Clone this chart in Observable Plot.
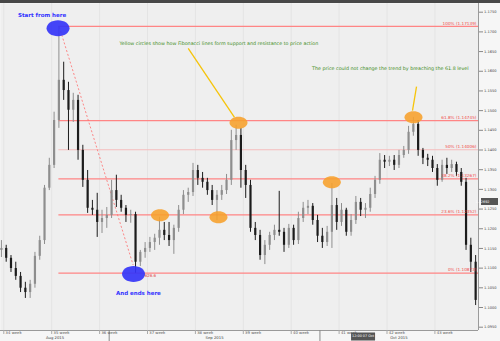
<!DOCTYPE html>
<html><head><meta charset="utf-8">
<script src="https://cdn.jsdelivr.net/npm/d3@7"></script>
<script src="https://cdn.jsdelivr.net/npm/@observablehq/plot@0.6"></script>
<style>
html,body{margin:0;padding:0;background:#f6f6f6;}
#chart svg{display:block;}
</style></head><body><div id="chart"></div>
<script>
// ---- candle data (EUR/USD, two bars per trading day), index -1 .. 98 ----
const candleIndex = d3.range(-1, 99);
const open = [1.1145,1.1150,1.1125,1.1099,1.1079,1.1049,1.1038,1.1059,1.1130,1.1170,
 1.1303,1.1361,1.1475,1.1577,1.1551,1.1501,1.1526,1.1399,1.1323,1.1252,
 1.1247,1.1216,1.1226,1.1234,1.1297,1.1272,1.1252,1.1234,1.1236,1.1115,
 1.1140,1.1150,1.1165,1.1176,1.1196,1.1183,1.1170,1.1201,1.1247,1.1285,
 1.1292,1.1348,1.1328,1.1318,1.1297,1.1272,1.1285,1.1297,1.1323,1.1424,
 1.1437,1.1348,1.1310,1.1201,1.1183,1.1132,1.1158,1.1183,1.1196,1.1191,
 1.1158,1.1201,1.1170,1.1226,1.1252,1.1257,1.1221,1.1181,1.1165,1.1191,
 1.1259,1.1216,1.1247,1.1191,1.1221,1.1267,1.1247,1.1252,1.1287,1.1323,
 1.1374,1.1369,1.1374,1.1361,1.1386,1.1399,1.1445,1.1465,1.1399,1.1379,
 1.1374,1.1353,1.1323,1.1361,1.1353,1.1363,1.1343,1.1318,1.1158,1.1115];
const high = [1.1170,1.1158,1.1132,1.1115,1.1089,1.1064,1.1069,1.1140,1.1181,1.1310,
 1.1379,1.1496,1.1714,1.1623,1.1572,1.1544,1.1539,1.1412,1.1348,1.1272,
 1.1290,1.1247,1.1254,1.1323,1.1336,1.1285,1.1259,1.1247,1.1242,1.1145,
 1.1165,1.1178,1.1186,1.1229,1.1216,1.1216,1.1209,1.1259,1.1297,1.1303,
 1.1366,1.1361,1.1343,1.1328,1.1310,1.1297,1.1310,1.1338,1.1450,1.1463,
 1.1455,1.1361,1.1323,1.1216,1.1196,1.1170,1.1191,1.1209,1.1295,1.1201,
 1.1211,1.1209,1.1242,1.1267,1.1272,1.1264,1.1234,1.1201,1.1206,1.1315,
 1.1277,1.1264,1.1252,1.1236,1.1282,1.1277,1.1264,1.1303,1.1333,1.1391,
 1.1386,1.1384,1.1386,1.1399,1.1409,1.1460,1.1483,1.1475,1.1404,1.1389,
 1.1384,1.1363,1.1374,1.1379,1.1374,1.1369,1.1353,1.1328,1.1176,1.1132];
const low = [1.1127,1.1115,1.1089,1.1069,1.1038,1.1023,1.1023,1.1049,1.1120,1.1160,
 1.1297,1.1353,1.1455,1.1526,1.1399,1.1470,1.1374,1.1305,1.1239,1.1234,
 1.1178,1.1188,1.1201,1.1226,1.1254,1.1242,1.1216,1.1214,1.1087,1.1104,
 1.1125,1.1140,1.1145,1.1158,1.1170,1.1155,1.1135,1.1191,1.1236,1.1267,
 1.1282,1.1310,1.1303,1.1285,1.1259,1.1221,1.1272,1.1287,1.1310,1.1399,
 1.1303,1.1277,1.1191,1.1170,1.1120,1.1109,1.1145,1.1170,1.1181,1.1140,
 1.1150,1.1158,1.1160,1.1216,1.1236,1.1209,1.1165,1.1150,1.1155,1.1150,
 1.1196,1.1206,1.1181,1.1181,1.1211,1.1231,1.1226,1.1242,1.1277,1.1313,
 1.1353,1.1358,1.1348,1.1353,1.1379,1.1389,1.1435,1.1384,1.1363,1.1358,
 1.1343,1.1308,1.1318,1.1338,1.1343,1.1333,1.1308,1.1145,1.1089,1.1005];
const close = [1.1150,1.1125,1.1099,1.1079,1.1049,1.1038,1.1059,1.1130,1.1170,1.1303,
 1.1361,1.1475,1.1577,1.1551,1.1501,1.1526,1.1399,1.1323,1.1252,1.1247,
 1.1216,1.1226,1.1234,1.1297,1.1272,1.1252,1.1234,1.1236,1.1115,1.1140,
 1.1150,1.1165,1.1176,1.1196,1.1183,1.1170,1.1201,1.1247,1.1285,1.1292,
 1.1348,1.1328,1.1318,1.1297,1.1272,1.1285,1.1297,1.1323,1.1424,1.1437,
 1.1348,1.1310,1.1201,1.1183,1.1132,1.1158,1.1183,1.1196,1.1191,1.1158,
 1.1201,1.1170,1.1226,1.1252,1.1257,1.1221,1.1181,1.1165,1.1191,1.1259,
 1.1216,1.1247,1.1191,1.1221,1.1267,1.1247,1.1252,1.1287,1.1323,1.1374,
 1.1369,1.1374,1.1361,1.1386,1.1399,1.1445,1.1465,1.1399,1.1379,1.1374,
 1.1353,1.1323,1.1361,1.1353,1.1363,1.1343,1.1318,1.1158,1.1115,1.1018];

// ---- axes ----
const yTicks = [1.095,1.100,1.105,1.110,1.115,1.120,1.125,1.130,1.135,1.140,1.145,1.150,1.155,1.160,1.165,1.170,1.175];
const weekLabels = ["34 week","35 week","36 week","37 week","38 week","39 week","40 week","41 week","42 week","43 week"];
const weekStarts = [-0.5,9.5,19.5,29.5,39.5,49.5,59.5,69.5,79.5,89.5];
const monthLabels = ["Aug 2015","Sep 2015","Oct 2015"];
const monthCenters = [10.2,43.5,82];
const monthTicks = [21.5,65.5];
const xDomain = [-1.19, 98.6];
const yDomain = [1.09416, 1.17721];

// ---- Fibonacci retracement ----
const fibNames = ["100%","61.8%","50%","38.2%","23.6%","0%"];
const fibValues = [1.17139,1.14745,1.14006,1.13267,1.12352,1.10873];
const fibStart = 11;
const fibPips = "626.6";

// ---- annotations ----
const blueX = [10.82, 26.58];
const blueY = [1.1709, 1.1085];
const blueText = ["Start from here","And ends here"];
const blueTextX = [7.5, 27.6];
const blueTextY = [1.1742, 1.1035];
const orangeX = [32.11, 44.32, 48.5, 67.98, 85.03];
const orangeY = [1.1234, 1.1229, 1.1469, 1.1318, 1.1483];
const greenText = ["Yellow circles show how Fibonacci lines form support and resistance to price action",
                   "The price could not change the trend by breaching the 61.8 level"];
const greenX = [44.4, 80.2];
const greenY = [1.1671, 1.1608];
const connX1 = [38.0, 85.66], connY1 = [1.1658, 1.1561];
const connX2 = [47.66, 84.82], connY2 = [1.1483, 1.1500];
const trendFrom = [11.1, 1.1712], trendTo = [26.5, 1.1108];
const crossX = 74.5, crossXLabel = "12:00 07 Oct";
const crossY = 1.12692;

// ---- build ----
const candles = candleIndex.map((i, k) => ({i, o: open[k], h: high[k], l: low[k], c: close[k]}));
const fib = fibNames.map((name, k) => ({name, value: fibValues[k]}));
const blue = blueX.map((x, k) => ({x, y: blueY[k]}));
const blueNotes = blueText.map((t, k) => ({t, x: blueTextX[k], y: blueTextY[k]}));
const orange = orangeX.map((x, k) => ({x, y: orangeY[k]}));
const greenNotes = greenText.map((t, k) => ({t, x: greenX[k], y: greenY[k]}));
const conns = connX1.map((x1, k) => ({x1, y1: connY1[k], x2: connX2[k], y2: connY2[k]}));

function ellipseSymbol(rx, ry) {
  const k = 0.5522848;
  return {draw(c) {
    c.moveTo(rx, 0);
    c.bezierCurveTo(rx, ry * k, rx * k, ry, 0, ry);
    c.bezierCurveTo(-rx * k, ry, -rx, ry * k, -rx, 0);
    c.bezierCurveTo(-rx, -ry * k, -rx * k, -ry, 0, -ry);
    c.bezierCurveTo(rx * k, -ry, rx, -ry * k, rx, 0);
    c.closePath();
  }};
}
function boxSymbol(w, h) { return {draw(c) { c.rect(-w / 2, -h / 2, w, h); }}; }

const up = "#8e8e8e", down = "#1c1c1c";

const chart = Plot.plot({
  width: 500, height: 341,
  marginTop: 3, marginRight: 22, marginBottom: 11, marginLeft: 0,
  x: {domain: xDomain, label: null},
  y: {domain: yDomain, label: null},
  style: {background: "linear-gradient(#484848 0 3px, #f6f6f6 3px)", fontFamily: "DejaVu Sans, sans-serif"},
  marks: [
    Plot.frame({fill: "#efefef", stroke: null}),
    Plot.ruleX(weekStarts, {stroke: "#e4e4e4"}),
    Plot.ruleY([yDomain[0]], {stroke: "#9a9a9a"}),
    Plot.ruleX([xDomain[1]], {stroke: "#9a9a9a"}),
    Plot.axisY(yTicks, {anchor: "right", label: null, tickSize: 4, tickPadding: 1.5, tickFormat: d3.format(".4f"), fontSize: 3.6, color: "#444", stroke: "#888"}),
    Plot.axisX(weekStarts, {anchor: "bottom", label: null, tickSize: 4, tickFormat: () => "", stroke: "#aaa"}),
    Plot.axisX(monthTicks, {anchor: "bottom", label: null, tickSize: 11, tickFormat: () => "", stroke: "#888"}),
    Plot.text(weekStarts, {x: d => d, text: (d, i) => weekLabels[i], frameAnchor: "bottom", dy: 3.6, dx: 1.8, textAnchor: "start", fontSize: 3.8, fill: "#555"}),
    Plot.text(monthCenters, {x: d => d, text: (d, i) => monthLabels[i], frameAnchor: "bottom", dy: 8.2, fontSize: 3.8, fill: "#444"}),
    // fib levels
    Plot.ruleY(fib, {y: "value", x1: () => fibStart, x2: () => xDomain[1], stroke: d => d.name === "50%" ? "#f5bcbc" : "#ff8585", strokeWidth: 1.2}),
    Plot.link([0], {x1: () => trendFrom[0], y1: () => trendFrom[1], x2: () => trendTo[0], y2: () => trendTo[1], stroke: "#ff6b6b", strokeDasharray: "2,2", strokeWidth: 0.8}),
    // candles
    Plot.ruleX(candles, {x: "i", y1: "l", y2: "h", stroke: d => d.c >= d.o ? up : down, strokeWidth: 1}),
    Plot.ruleX(candles, {x: "i", y1: "o", y2: "c", stroke: d => d.c >= d.o ? up : down, strokeWidth: 2.2}),
    Plot.text(fib, {y: "value", text: d => `${d.name} (${d.value.toFixed(5)})`, frameAnchor: "right", dx: -2, dy: -3, textAnchor: "end", fill: "#f04848", fontSize: 4.2}),
    // annotations
    Plot.dot(orange, {x: "x", y: "y", symbol: ellipseSymbol(9, 6), fill: "#f7a12b", fillOpacity: 0.88, stroke: null}),
    Plot.dot(blue, {x: "x", y: "y", symbol: ellipseSymbol(11.5, 8), fill: "#3535f7", fillOpacity: 0.92, stroke: null}),
    Plot.text([fibPips], {x: () => 30.1, y: () => 1.1081, text: d => d, fill: "#e04040", fontSize: 4}),
    Plot.link(conns, {x1: "x1", y1: "y1", x2: "x2", y2: "y2", stroke: "#f6c40a", strokeWidth: 1.3}),
    Plot.text(blueNotes, {x: "x", y: "y", text: "t", fill: "#3333ff", fontWeight: "bold", fontSize: 5.5}),
    Plot.text(greenNotes, {x: "x", y: "y", text: "t", fill: "#3d8b1a", fontSize: 4.8}),
    // crosshair labels
    Plot.dot([crossY], {y: d => d, frameAnchor: "right", dx: 11, symbol: boxSymbol(17, 7), fill: "#555", stroke: null}),
    Plot.text([crossY], {y: d => d, frameAnchor: "right", dx: 11, text: d => d.toFixed(5), fill: "#fff", fontSize: 3.4}),
    Plot.dot([crossX], {x: d => d, frameAnchor: "bottom", dy: 6, symbol: boxSymbol(24, 8), fill: "#555", stroke: null}),
    Plot.text([crossX], {x: d => d, frameAnchor: "bottom", dy: 6, text: () => crossXLabel, fill: "#fff", fontSize: 3.4})
  ]
});
document.getElementById("chart").appendChild(chart);
</script></body></html>
